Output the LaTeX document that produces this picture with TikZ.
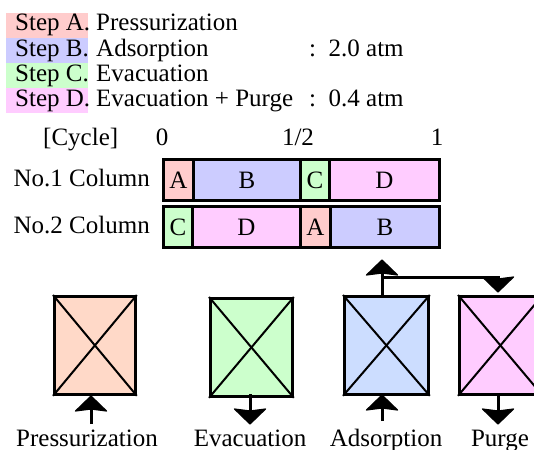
\documentclass[tikz,border=0pt]{standalone}
\usepackage{fontspec}
\setmainfont{Liberation Serif}
\definecolor{cA}{HTML}{FFCCCC}
\definecolor{cB}{HTML}{CCCCFF}
\definecolor{cC}{HTML}{CCFFCC}
\definecolor{cD}{HTML}{FFCCFF}
\definecolor{bP}{HTML}{FFD9C8}
\definecolor{bE}{HTML}{CCFFCC}
\definecolor{bA}{HTML}{CCDDFF}
\definecolor{bU}{HTML}{FFCCFF}
\begin{document}
\begin{tikzpicture}[x=1pt,y=-1pt,
  font=\fontsize{25}{26}\selectfont,
  txt/.style={inner sep=0pt, anchor=base west},
  hl/.style={draw=none, inner sep=0pt, minimum width=82pt, minimum height=25pt, anchor=north west},
  seg/.style={draw, line width=2.8pt, inner sep=0pt, minimum height=41pt, anchor=north west},
  col/.style={draw, line width=2.8pt, inner sep=0pt, minimum height=98pt, anchor=north west},
  diag/.style={line width=2pt},
  arr/.style={line width=3pt, shorten >=8pt},
  lnk/.style={line width=3pt},
  headU/.pic={\fill (0,0) -- (15.5,15) -- (0,13) -- (-15.5,15) -- cycle;
              \draw[line width=1.2pt, line join=round] (0,0) -- (15.5,15) -- (0,13) -- (-15.5,15) -- cycle;}]
\useasboundingbox (0,0) rectangle (534,449);
% legend
\node[hl, fill=cA] (ha) at (6,13) {};
\node[hl, fill=cB] (hb) at (6,38) {};
\node[hl, fill=cC] (hc) at (6,63) {};
\node[hl, fill=cD] (hd) at (6,88) {};
\node[txt] (sa) at (15,31) {Step A.};
\node[txt] (sb) at (15,56.5) {Step B.};
\node[txt] (sc) at (15,81.5) {Step C.};
\node[txt] (sd) at (15,106.5) {Step D.};
\node[txt] (na) at (96,31) {Pressurization};
\node[txt] (nb) at (96,56.5) {Adsorption};
\node[txt] (nc) at (96,81.5) {Evacuation};
\node[txt] (nd) at (96,106.5) {Evacuation + Purge};
\node[txt] (pb) at (309,56.5) {:\ \ 2.0 atm};
\node[txt] (pd) at (309,106.5) {:\ \ 0.4 atm};
% cycle chart
\node[txt] (cy) at (43,145) {[Cycle]};
\node[inner sep=0pt, anchor=base] (z0) at (162,145) {0};
\node[inner sep=0pt, anchor=base] (zh) at (298,145) {1/2};
\node[inner sep=0pt, anchor=base] (z1) at (437,145) {1};
\node[inner sep=0pt, anchor=east] (r1) at (150,178) {No.1 Column};
\node[inner sep=0pt, anchor=east] (r2) at (150,225) {No.2 Column};
\node[seg, fill=cA, minimum width=30pt] (a1) at (162,158) {A};
\node[seg, fill=cB, minimum width=107pt] (b1) at (192,158) {B};
\node[seg, fill=cC, minimum width=29pt] (c1) at (299,158) {C};
\node[seg, fill=cD, minimum width=110pt] (d1) at (328,158) {D};
\node[seg, fill=cC, minimum width=29pt] (c2) at (162,205) {C};
\node[seg, fill=cD, minimum width=108pt] (d2) at (191,205) {D};
\node[seg, fill=cA, minimum width=30pt] (a2) at (299,205) {A};
\node[seg, fill=cB, minimum width=109pt] (b2) at (329,205) {B};
% columns
\node[col, fill=bP, minimum width=81pt] (k1) at (53,295) {};
\node[col, fill=bE, minimum width=82pt] (k2) at (209,297) {};
\node[col, fill=bA, minimum width=84pt] (k3) at (343,295) {};
\node[col, fill=bU, minimum width=82pt] (k4) at (458,295) {};
\foreach \k in {k1,k2,k3,k4}{
  \draw[diag] (\k.north west) -- (\k.south east);
  \draw[diag] (\k.north east) -- (\k.south west);
}
% connectors
\coordinate (i1) at (91,424);
\coordinate (t1) at (91,396);
\coordinate (s2) at (250,394);
\coordinate (t2) at (250,424);
\coordinate (i3) at (382,421);
\coordinate (t3) at (382,395);
\coordinate (u3) at (382,295);
\coordinate (o3) at (382,260);
\coordinate (j3) at (382,277);
\coordinate (j4) at (498,277);
\coordinate (t4) at (498,292);
\coordinate (s4) at (498,393);
\coordinate (o4) at (498,424);
\draw[arr] (i1) -- (t1);
\pic at (t1) {headU};
\draw[arr] (s2) -- (t2);
\pic[rotate=180] at (t2) {headU};
\draw[arr] (i3) -- (t3);
\pic at (t3) {headU};
\draw[arr] (u3) -- (o3);
\pic at (o3) {headU};
\draw[lnk] ([xshift=-1.5pt]j3) -- ([xshift=1.5pt]j4);
\draw[arr] (j4) -- (t4);
\pic[rotate=180] at (t4) {headU};
\draw[arr] (s4) -- (o4);
\pic[rotate=180] at (o4) {headU};
% labels
\node[inner sep=0pt, anchor=base] (lp) at (87,446) {Pressurization};
\node[inner sep=0pt, anchor=base] (le) at (250,446) {Evacuation};
\node[inner sep=0pt, anchor=base] (la) at (386,446) {Adsorption};
\node[inner sep=0pt, anchor=base] (lu) at (500,446) {Purge};
\end{tikzpicture}
\end{document}
